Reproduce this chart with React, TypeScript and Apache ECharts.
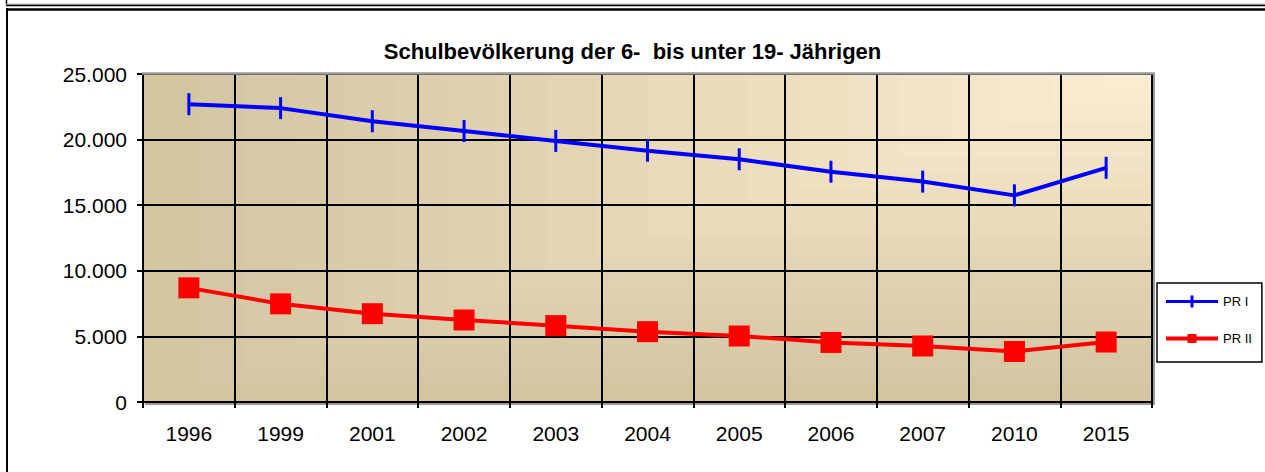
import React, { useEffect, useRef } from "react";
import * as echarts from "echarts";

// ---- data ----
const years = ["1996", "1999", "2001", "2002", "2003", "2004", "2005", "2006", "2007", "2010", "2015"];
const prI = [22700, 22400, 21400, 20650, 19900, 19150, 18500, 17550, 16800, 15750, 17850];
const prII = [8700, 7480, 6730, 6250, 5820, 5360, 5030, 4540, 4270, 3850, 4570];
const seriesNames = ["PR I", "PR II"];
const titleText = "Schulbevölkerung der 6-  bis unter 19- Jährigen";
const yMin = 0;
const yMax = 25000;
const yStep = 5000;

// ---- layout / style ----
const W = 1265;
const H = 472;
const G = { left: 143, top: 74, width: 1009, height: 328 };
const FONT = "'Liberation Sans', Arial, sans-serif";
const DARK = [211, 197, 160];
const LIGHT = [252, 238, 211];

function fmt(v: number): string {
  return String(Math.round(v)).replace(/\B(?=(\d{3})+(?!\d))/g, ".");
}

function bands(): any[] {
  const out: any[] = [];
  const N = 20;
  for (let i = 0; i < N; i++) {
    const t = 1 - i / N;
    const f = 1 - t;
    const c = DARK.map((d, k) => Math.round(d + (LIGHT[k] - d) * f));
    const w = G.width * t;
    const h = G.height * t;
    out.push({
      type: "rect",
      z: -10,
      silent: true,
      shape: { x: G.left + G.width - w, y: G.top, width: w, height: h },
      style: { fill: `rgb(${c[0]},${c[1]},${c[2]})` },
    });
  }
  return out;
}

export default function App() {
  const ref = useRef<HTMLDivElement>(null);
  useEffect(() => {
    if (!ref.current) return;
    const chart = echarts.init(ref.current, undefined, { renderer: "svg" });
    const right = G.left + G.width;
    const bottom = G.top + G.height;
    chart.setOption({
      animation: false,
      backgroundColor: "#ffffff",
      title: {
        text: titleText,
        left: "center",
        top: 35,
        padding: [5, 0, 5, 13],
        textStyle: { fontSize: 22, fontWeight: "bold", color: "#000", fontFamily: FONT },
      },
      legend: {
        orient: "vertical",
        left: 1157,
        top: 283,
        padding: [12, 10, 17, 9],
        itemWidth: 52,
        itemHeight: 14,
        itemGap: 24,
        backgroundColor: "#ffffff",
        borderColor: "#000000",
        borderWidth: 1.5,
        itemStyle: { borderWidth: 0 },
        textStyle: { fontSize: 13, color: "#000", fontFamily: FONT },
        data: [
          { name: seriesNames[0], icon: "path://M0,5.5H52V8.5H0Z M24.5,1H27.5V13H24.5Z" },
          { name: seriesNames[1], icon: "path://M0,5H52V9H0Z M21.5,2.5H30.5V11.5H21.5Z" },
        ],
      },
      grid: { left: G.left, top: G.top, width: G.width, height: G.height, containLabel: false },
      xAxis: {
        type: "category",
        data: years,
        boundaryGap: true,
        axisLine: { show: true, lineStyle: { color: "#000", width: 2 } },
        axisTick: { show: true, length: 6, alignWithLabel: false, lineStyle: { color: "#000", width: 2 } },
        axisLabel: { fontSize: 21, color: "#000", fontFamily: FONT, margin: 21, interval: 0 },
        splitLine: { show: true, lineStyle: { color: "#000", width: 2 } },
      },
      yAxis: {
        type: "value",
        min: yMin,
        max: yMax,
        interval: yStep,
        axisLine: { show: true, lineStyle: { color: "#000", width: 2 } },
        axisTick: { show: true, length: 6, lineStyle: { color: "#000", width: 2 } },
        axisLabel: { fontSize: 21, color: "#000", fontFamily: FONT, margin: 16, formatter: (v: number) => fmt(v) },
        splitLine: { show: true, lineStyle: { color: "#000", width: 2 } },
      },
      series: [
        {
          name: seriesNames[0],
          type: "line",
          data: prI,
          color: "#0000ff",
          symbol: "rect",
          symbolSize: [3, 22],
          showAllSymbol: true,
          lineStyle: { color: "#0000ff", width: 4 },
          itemStyle: { color: "#0000ff", borderWidth: 0 },
        },
        {
          name: seriesNames[1],
          type: "line",
          data: prII,
          color: "#ff0000",
          symbol: "rect",
          symbolSize: 21,
          showAllSymbol: true,
          lineStyle: { color: "#ff0000", width: 4 },
          itemStyle: { color: "#ff0000", borderWidth: 0 },
        },
      ],
      graphic: {
        elements: [
          ...bands(),
          { type: "line", z: -5, silent: true, shape: { x1: right + 2, y1: G.top - 1, x2: right + 2, y2: bottom + 2 }, style: { stroke: "#999", lineWidth: 2 } },
          { type: "line", z: -5, silent: true, shape: { x1: G.left + 2, y1: bottom + 2, x2: right + 3, y2: bottom + 2 }, style: { stroke: "#999", lineWidth: 2 } },
          { type: "line", z: -4, silent: true, shape: { x1: right, y1: G.top, x2: right, y2: bottom }, style: { stroke: "#000", lineWidth: 2 } },
          { type: "line", z: 10, silent: true, shape: { x1: G.left - 1, y1: G.top - 0.5, x2: right + 3, y2: G.top - 0.5 }, style: { stroke: "#999", lineWidth: 2.5 } },
          // outer frame
          { type: "line", z: 10, silent: true, shape: { x1: 6.5, y1: 0, x2: 6.5, y2: 4.5 }, style: { stroke: "#000", lineWidth: 1.5 } },
          { type: "line", z: 10, silent: true, shape: { x1: 6, y1: 4.2, x2: W, y2: 4.2 }, style: { stroke: "#999", lineWidth: 1 } },
          { type: "line", z: 10, silent: true, shape: { x1: 6, y1: 5.4, x2: W, y2: 5.4 }, style: { stroke: "#000", lineWidth: 1.5 } },
          { type: "line", z: 10, silent: true, shape: { x1: 6, y1: 9.5, x2: W, y2: 9.5 }, style: { stroke: "#000", lineWidth: 2.4 } },
          { type: "line", z: 10, silent: true, shape: { x1: 7, y1: 8.3, x2: 7, y2: H }, style: { stroke: "#000", lineWidth: 2 } },
        ],
      },
    });
    return () => chart.dispose();
  }, []);
  return <div ref={ref} style={{ position: "absolute", left: 0, top: 0, width: W, height: H }} />;
}
